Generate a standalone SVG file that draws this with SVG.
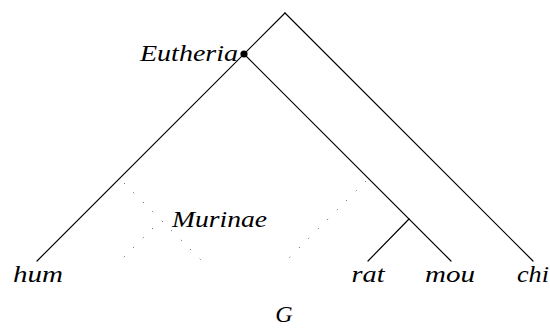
<svg xmlns="http://www.w3.org/2000/svg" width="550" height="329" viewBox="0 0 550 329">
<style>
.edge{stroke:#000;stroke-width:1.2;fill:none;stroke-linecap:round}
.dot{stroke:#444;stroke-width:1;fill:none;stroke-dasharray:1 12.4}
.lbl{font-family:"Liberation Serif","DejaVu Serif",serif;font-style:italic;font-size:24px;fill:#000}
</style>
<rect width="550" height="329" fill="#fff"/>
<g id="connectors">
<line class="edge" x1="285" y1="13" x2="37" y2="261"/>
<line class="edge" x1="285" y1="13" x2="533" y2="261"/>
<line class="edge" x1="244" y1="54" x2="451" y2="261"/>
<line class="edge" x1="409" y1="219" x2="368" y2="261"/>
<line class="dot" x1="124" y1="183" x2="201" y2="260"/>
<line class="dot" x1="153" y1="228" x2="123" y2="258"/>
<line class="dot" x1="366" y1="181" x2="289" y2="258"/>
</g>
<g id="eutheria">
<circle cx="244" cy="54" r="3.6" fill="#000"/>
<text class="lbl" x="238" y="61" text-anchor="end" textLength="98" lengthAdjust="spacingAndGlyphs">Eutheria</text>
</g>
<g id="murinae"><text class="lbl" x="172" y="227" textLength="95" lengthAdjust="spacingAndGlyphs">Murinae</text></g>
<g id="hum"><text class="lbl" x="38" y="282" text-anchor="middle" textLength="50" lengthAdjust="spacingAndGlyphs">hum</text></g>
<g id="rat"><text class="lbl" x="368" y="282" text-anchor="middle" textLength="33" lengthAdjust="spacingAndGlyphs">rat</text></g>
<g id="mou"><text class="lbl" x="450" y="282" text-anchor="middle" textLength="50" lengthAdjust="spacingAndGlyphs">mou</text></g>
<g id="chi"><text class="lbl" x="533" y="282" text-anchor="middle" textLength="32" lengthAdjust="spacingAndGlyphs">chi</text></g>
<g id="G"><text class="lbl" x="284" y="322" text-anchor="middle">G</text></g>
</svg>
